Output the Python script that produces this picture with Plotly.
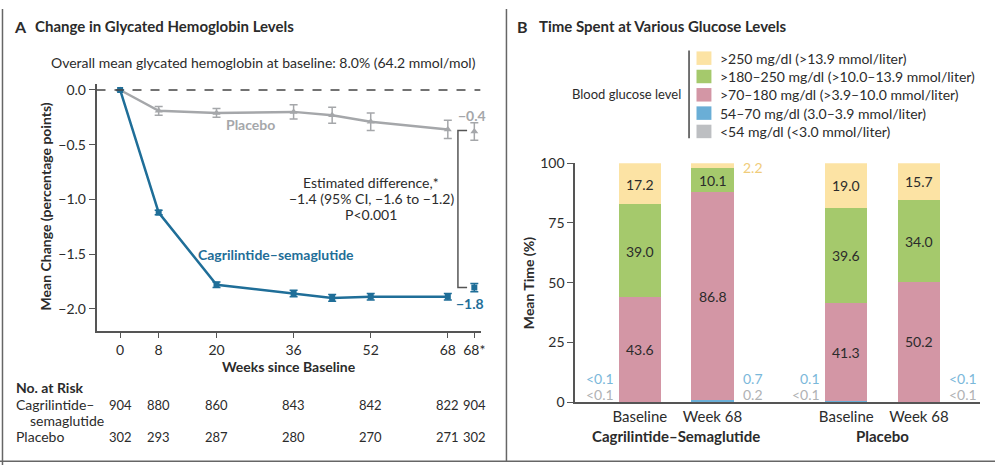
import plotly.graph_objects as go

# ---------------- data: panel A ----------------
weeks = [0, 8, 20, 36, 44, 52, 68]
placebo_change = [0.0, -0.19, -0.21, -0.20, -0.23, -0.29, -0.36]
placebo_err = [0.0, 0.04, 0.04, 0.066, 0.073, 0.08, 0.084]
cagrisema_change = [0.0, -1.12, -1.78, -1.86, -1.90, -1.89, -1.89]
cagrisema_err = [0.0, 0.02, 0.025, 0.03, 0.03, 0.03, 0.03]
week68_star = 73.5
placebo_68star, placebo_68star_err = -0.38, 0.08
cagrisema_68star, cagrisema_68star_err = -1.806, 0.037
label_placebo_end = "−0.4"
label_cagrisema_end = "−1.8"

xtick_vals = [0, 8, 20, 36, 52, 68, 73.5]
xtick_text = ["0", "8", "20", "36", "52", "68", "68*"]
ytick_vals = [0, -0.5, -1.0, -1.5, -2.0]
ytick_text = ["0.0", "−0.5", "−1.0", "−1.5", "−2.0"]

risk_cagrisema = [904, 880, 860, 843, 842, 822, 904]
risk_placebo = [302, 293, 287, 280, 270, 271, 302]

# ---------------- data: panel B ----------------
bar_groups = ["Cagrilintide–Semaglutide", "Placebo"]
bar_periods = ["Baseline", "Week 68"]
levels = [
    "<54 mg/dl (<3.0 mmol/liter)",
    "54–70 mg/dl (3.0–3.9 mmol/liter)",
    ">70–180 mg/dl (>3.9–10.0 mmol/liter)",
    ">180–250 mg/dl (>10.0–13.9 mmol/liter)",
    ">250 mg/dl (>13.9 mmol/liter)",
]
# columns: CagriSema baseline, CagriSema wk68, Placebo baseline, Placebo wk68
lt54 = [0.05, 0.2, 0.05, 0.05]
lt54_text = ["<0.1", "0.2", "<0.1", "<0.1"]
r54_70 = [0.05, 0.7, 0.1, 0.05]
r54_70_text = ["<0.1", "0.7", "0.1", "<0.1"]
r70_180 = [43.6, 86.8, 41.3, 50.2]
r180_250 = [39.0, 10.1, 39.6, 34.0]
gt250 = [17.2, 2.2, 19.0, 15.7]
ytickB = [0, 25, 50, 75, 100]

# ---------------- style ----------------
W, H = 1000, 473
FONT = "Lato"
DARK = "#2b2b2b"
AXIS = "#555555"
GRAY = "#a5a7aa"
BLUE = "#1f6e98"
level_colors = ["#bdbfc2", "#6aaed6", "#d396a5", "#a5c96c", "#fce3a4"]
side_text_colors = ["#b0b2b4", "#7ab8da"]


def px(x):
    return x / W


def py(y):
    return 1 - y / H


annotations = []
shapes = []


def text(x, y, s, size=14, color=DARK, bold=False, xanchor="center", xref="paper", yref="paper", angle=0):
    if bold:
        s = "<b>" + s + "</b>"
    annotations.append(dict(
        x=x, y=y, xref=xref, yref=yref, text=s, showarrow=False,
        xanchor=xanchor, yanchor="middle", textangle=angle,
        font=dict(family=FONT, size=size, color=color)))


fig = go.Figure()

# ---- panel A traces ----
fig.add_trace(go.Scatter(
    x=weeks, y=placebo_change, mode="lines+markers", name="Placebo",
    line=dict(color=GRAY, width=2.5),
    marker=dict(symbol="triangle-up", size=7, color=GRAY),
    error_y=dict(type="data", array=placebo_err, color=GRAY, thickness=1.5, width=4),
    xaxis="x", yaxis="y", showlegend=False))
fig.add_trace(go.Scatter(
    x=weeks, y=cagrisema_change, mode="lines+markers", name="Cagrilintide–semaglutide",
    line=dict(color=BLUE, width=2.5),
    marker=dict(symbol="square", size=6, color=BLUE),
    error_y=dict(type="data", array=cagrisema_err, color=BLUE, thickness=1.5, width=4),
    xaxis="x", yaxis="y", showlegend=False))
fig.add_trace(go.Scatter(
    x=[week68_star], y=[placebo_68star], mode="markers", name="Placebo (68*)",
    marker=dict(symbol="triangle-up", size=7, color=GRAY),
    error_y=dict(type="data", array=[placebo_68star_err], color=GRAY, thickness=1.5, width=4),
    xaxis="x", yaxis="y", showlegend=False))
fig.add_trace(go.Scatter(
    x=[week68_star], y=[cagrisema_68star], mode="markers", name="Cagrilintide–semaglutide (68*)",
    marker=dict(symbol="square", size=6, color=BLUE),
    error_y=dict(type="data", array=[cagrisema_68star_err], color=BLUE, thickness=1.5, width=4),
    xaxis="x", yaxis="y", showlegend=False))

# ---- panel B traces (stacked bars) ----
bar_pos = []
for gi in range(len(bar_groups)):
    for pi in range(len(bar_periods)):
        bar_pos.append(gi * 2.84 + pi)
series = [lt54, r54_70, r70_180, r180_250, gt250]
for name, vals, col in zip(levels, series, level_colors):
    fig.add_trace(go.Bar(
        x=bar_pos, y=vals, name=name, marker=dict(color=col, line=dict(width=0)),
        width=0.58, xaxis="x2", yaxis="y2", showlegend=False, hoverinfo="name+y"))

# ---- panel A annotations ----
text(px(12), py(18), "A", size=16, bold=True, xanchor="left")
text(px(33), py(18), "Change in Glycated Hemoglobin Levels", size=15, bold=True, xanchor="left")
text(px(265), py(55), "Overall mean glycated hemoglobin at baseline: 8.0% (64.2 mmol/mol)", size=14)
text(px(46), py(205), "Mean Change (percentage points)", size=14, bold=True, angle=-90)
text(px(290), py(371), "Weeks since Baseline", size=14, bold=True)
text(px(252), py(120), "Placebo", size=14, bold=True, color=GRAY)
text(px(277), py(255), "Cagrilintide–semaglutide", size=14, bold=True, color=BLUE)
text(px(373), py(180), "Estimated difference,*", size=14)
text(px(373), py(196.5), "−1.4 (95% CI, −1.6 to −1.2)", size=14)
text(px(373), py(213), "P<0.001", size=14)
text(px(474), py(110), label_placebo_end, size=14, bold=True, color=GRAY)
text(px(472), py(305), label_cagrisema_end, size=14, bold=True, color=BLUE)

text(px(14), py(393), "No. at Risk", size=14, bold=True, xanchor="left")
text(px(14), py(410.5), "Cagrilintide–", size=14, xanchor="left")
text(px(28), py(427), "semaglutide", size=14, xanchor="left")
text(px(14), py(443.5), "Placebo", size=14, xanchor="left")
for xv, a, b in zip(xtick_vals, risk_cagrisema, risk_placebo):
    text(xv, py(410.5), str(a), size=13, xref="x")
    text(xv, py(443.5), str(b), size=13, xref="x")

# zero dashed line and bracket
shapes.append(dict(type="line", xref="x", yref="y", x0=-4.9, x1=74.8, y0=0, y1=0,
                   line=dict(color="#444", width=1.3, dash="dash")))
bx0, bx1 = 70.1, 72.0
shapes.append(dict(type="path", xref="x", yref="y",
                   path=f"M {bx1},-0.37 L {bx0},-0.37 L {bx0},-1.806 L {bx1},-1.806",
                   line=dict(color="#555", width=1.5)))

# ---- panel B annotations ----
text(px(518), py(18), "B", size=16, bold=True, xanchor="left")
text(px(540), py(18), "Time Spent at Various Glucose Levels", size=15, bold=True, xanchor="left")
text(px(686), py(88), "Blood glucose level", size=13, xanchor="right")
shapes.append(dict(type="line", xref="paper", yref="paper", x0=px(692.5), x1=px(692.5),
                   y0=py(43), y1=py(134), line=dict(color="#444", width=1.5)))
legend_rows = [51, 70, 89, 108, 127]
for i, (name, col) in enumerate(zip(reversed(levels), reversed(level_colors))):
    yc = legend_rows[i]
    shapes.append(dict(type="rect", xref="paper", yref="paper", x0=px(700), x1=px(715),
                       y0=py(yc - 7), y1=py(yc + 7), fillcolor=col, line=dict(width=0)))
    text(px(722), py(yc), name, size=14, xanchor="left")

text(px(531), py(284), "Mean Time (%)", size=14, bold=True, angle=-90)

# labels inside bars
for i, xp in enumerate(bar_pos):
    base = lt54[i] + r54_70[i]
    for vals in (r70_180, r180_250, gt250):
        v = vals[i]
        if v >= 5:
            text(xp, base + v / 2, f"{v:.1f}", size=14, color=DARK, xref="x2", yref="y2")
        else:
            text(xp + 0.39, 98.2, f"{v:.1f}", size=14, color="#f0cc7a", xref="x2", yref="y2", xanchor="left")
        base += v
    # small categories labels beside bars
    if i % 2 == 0:
        xs, anchor = xp - 0.33, "right"
    else:
        xs, anchor = xp + 0.39, "left"
    text(xs, py(400), lt54_text[i], size=14, color=side_text_colors[0], xref="x2", xanchor=anchor)
    text(xs, py(383), r54_70_text[i], size=14, color=side_text_colors[1], xref="x2", xanchor=anchor)

for gi, g in enumerate(bar_groups):
    text((bar_pos[2 * gi] + bar_pos[2 * gi + 1]) / 2, py(443), g, size=15, bold=True, xref="x2")

# panel borders
shapes.append(dict(type="line", xref="paper", yref="paper", x0=px(2.5), x1=px(2.5), y0=0, y1=1,
                   line=dict(color="#666", width=1.5)))
shapes.append(dict(type="line", xref="paper", yref="paper", x0=px(509), x1=px(509), y0=py(469), y1=1,
                   line=dict(color="#666", width=1.5)))
shapes.append(dict(type="line", xref="paper", yref="paper", x0=0, x1=1, y0=py(469), y1=py(469),
                   line=dict(color="#666", width=1.5)))

axis_common = dict(showgrid=False, zeroline=False, showline=True, linecolor=AXIS, linewidth=1.5,
                   ticks="outside", ticklen=6, tickwidth=1.3, tickcolor=AXIS,
                   tickfont=dict(family=FONT, size=14, color=DARK), fixedrange=True)

fig.update_layout(
    width=W, height=H, margin=dict(l=0, r=0, t=0, b=0),
    paper_bgcolor="white", plot_bgcolor="white",
    font=dict(family=FONT, size=14, color=DARK),
    barmode="stack", bargap=0,
    xaxis=dict(domain=[px(97), px(483)], range=[-4.9, 74.8], anchor="y",
               tickmode="array", tickvals=xtick_vals, ticktext=xtick_text, **axis_common),
    yaxis=dict(domain=[py(333.7), py(78)], range=[-2.2, 0.053], anchor="x",
               tickmode="array", tickvals=ytick_vals, ticktext=ytick_text, **axis_common),
    xaxis2=dict(domain=[px(578), px(985)], range=[-0.89, 4.68], anchor="y2",
                tickmode="array", tickvals=bar_pos, ticktext=bar_periods * 2,
                **{**axis_common, "ticks": "", "tickfont": dict(family=FONT, size=15, color=DARK)}),
    yaxis2=dict(domain=[py(407.7), py(160)], range=[0, 100], anchor="x2",
                tickmode="array", tickvals=ytickB, ticktext=[str(v) for v in ytickB], **axis_common),
    annotations=annotations, shapes=shapes,
)

fig.write_html("out.html", config={"displayModeBar": False},
               post_script="document.body.style.margin='0';document.body.style.overflow='hidden';")
